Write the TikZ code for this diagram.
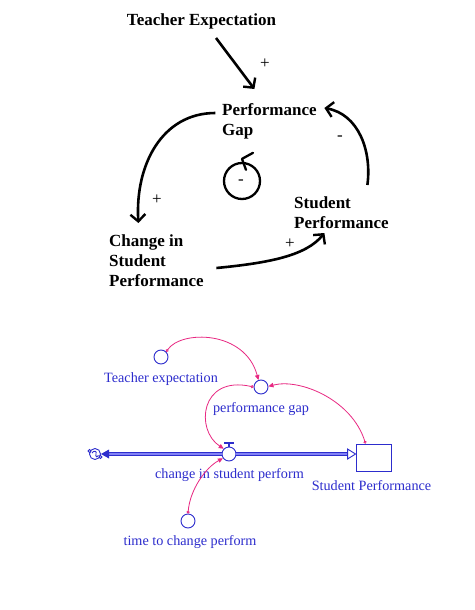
\documentclass[tikz,border=0pt]{standalone}
\usepackage{fontspec}
\setmainfont{Liberation Serif}
\usetikzlibrary{arrows.meta,calc}
\definecolor{vblue}{RGB}{45,45,205}
\definecolor{vpale}{RGB}{130,130,245}
\definecolor{vpink}{RGB}{232,40,130}
\begin{document}
\begin{tikzpicture}[x=1pt,y=-1pt,
  big/.style={font=\bfseries\fontsize{17}{20}\selectfont, inner sep=0pt, align=left},
  sgn/.style={font=\fontsize{17}{17}\selectfont, inner sep=0pt},
  carr/.style={line width=2.6pt, -{Straight Barb[length=7pt,width=15pt,line width=2.4pt]}},
  lbl/.style={font=\fontsize{14.2}{16}\selectfont, text=vblue, inner sep=0pt},
  aux/.style={circle, draw=vblue, line width=0.9pt, minimum size=14pt, inner sep=0pt},
  link/.style={draw=vpink, line width=0.8pt, {Circle[open,length=3pt,width=3pt,line width=0.8pt]}-{Stealth[length=5pt,width=4.5pt,inset=0pt]}},
  pipe/.style={draw=vblue, line width=0.9pt, double=vpale, double distance=1.8pt},
]
\useasboundingbox[fill=white] (0,0) rectangle (474,610);

% ---------- causal loop diagram ----------
\node[big] (TE) at (201.5,21.5) {Teacher Expectation};
\node[big, anchor=west] (PG) at (222,121) {Performance\\Gap};
\node[big, anchor=west] (SP) at (294,212.5) {Student\\Performance};
\node[big, anchor=west] (CSP) at (109,260.5) {Change in\\Student\\Performance};

\draw[carr] ($(TE)+(14.5,16.5)$) -- ($(PG)+(-15,-32)$);
\node[sgn] (p1) at (265,64) {+};

\draw[carr] ($(SP)+(26,-27.5)$) .. controls (372,150) and (358,114) .. ($(PG)+(55,-13)$);
\node[sgn] (m1) at (340,138) {-};

\draw[carr] ($(PG)+(-54,-8)$) .. controls (162,113) and (135,165) .. ($(CSP)+(-18,-37.5)$);
\node[sgn] (p2) at (157,200) {+};

\draw[carr] ($(CSP)+(60,7.5)$) .. controls (268,263) and (306,256) .. ($(SP)+(-17,20.5)$);
\node[sgn] (p3) at (290,244) {+};

% loop symbol
\node[circle, draw, line width=2.3pt, minimum size=36pt, inner sep=0pt] (loop) at (242,181) {};
\node[sgn] (loopsign) at (241,182) {-};
\draw[line width=2.3pt, line cap=round, line join=round] ($(loop.north)+(11,-9)$) -- ($(loop.north)+(0,-3)$) -- ($(loop.north)+(4,8)$);

% ---------- stock and flow diagram ----------
\node[aux] (teC) at (161,357) {};
\node[lbl] (teL) at (161,379.5) {Teacher expectation};
\node[aux] (pgC) at (261,387) {};
\node[lbl] (pgL) at (261,409.5) {performance gap};
\node[draw=vblue, line width=0.9pt, minimum width=35pt, minimum height=27pt, inner sep=0pt] (stock) at (373.5,457.5) {};
\node[lbl] (stockL) at (371.5,485.5) {Student Performance};
\node[aux] (valve) at (229,454) {};
\node[lbl] (valveL) at (229.5,475.5) {change in student perform};
\node[aux] (tmC) at (188,521) {};
\node[lbl] (tmL) at (190,542.5) {time to change perform};

% cloud
\coordinate (cloud) at (95,454);
\begin{scope}[draw=vblue, line width=0.9pt]
  \draw (cloud) circle (5.5);
  \draw ($(cloud)+(-3,-1)$) .. controls ($(cloud)+(-1,-4)$) and ($(cloud)+(2,-3)$) .. ($(cloud)+(1,0)$)
        .. controls ($(cloud)+(0,3)$) and ($(cloud)+(3,4)$) .. ($(cloud)+(3.5,1.5)$);
  \draw[fill=white] ($(cloud)+(-5.5,-3)$) circle (1.4);
  \draw[fill=white] ($(cloud)+(5.5,3)$) circle (1.4);
\end{scope}

% flow pipe
\coordinate (inlet) at (valve.east -| stock.west);
\draw[pipe] (valve.east) -- ($(inlet)+(-7,0)$);
\draw[pipe] (valve.west) -- ($(cloud)+(14,0)$);
\fill[vblue] ($(cloud)+(6,0)$) -- ($(cloud)+(14,-4.5)$) -- ($(cloud)+(14,4.5)$) -- cycle;
\draw[vblue, line width=0.9pt, fill=white] ($(inlet)+(-8,-5)$) -- (inlet) -- ($(inlet)+(-8,5)$) -- cycle;
% valve top
\draw[vblue, line width=1.6pt] (valve.north) -- ++(0,-3);
\draw[vblue, line width=2pt] ($(valve.north)+(-5,-4)$) -- ($(valve.north)+(5,-4)$);

% links
\draw[link] (teC.45) .. controls (181,330) and (245,330) .. (pgC.110);
\draw[link] (pgC.180) .. controls (200,375) and (195,430) .. (valve.135);
\draw[link] ($(stock.north)+(-8,0)$) .. controls (352,400) and (300,378) .. (pgC.5);
\draw[link] (tmC.north) .. controls (190,490) and (205,468) .. (valve.215);
\end{tikzpicture}
\end{document}
